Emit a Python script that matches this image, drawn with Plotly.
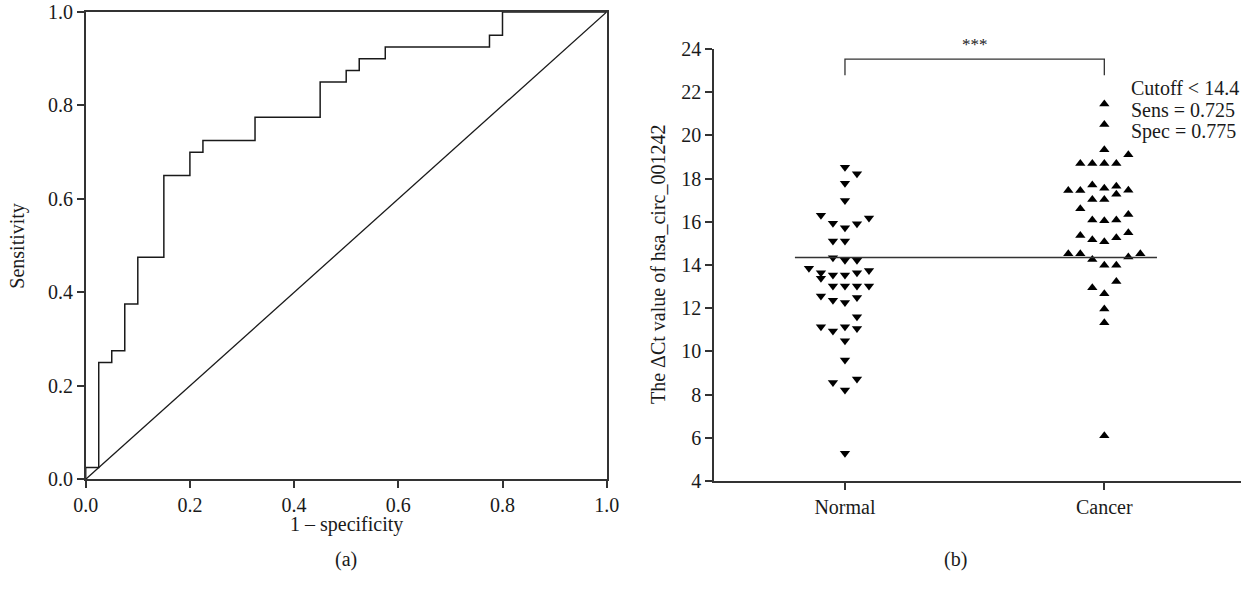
import plotly.graph_objects as go

# ---------------- data ----------------
# (a) ROC curve corner points (1 - specificity, sensitivity)
roc_fpr = [0, 0, 0.025, 0.05, 0.075, 0.1, 0.15, 0.2, 0.225, 0.325, 0.45, 0.5, 0.525, 0.575, 0.775, 0.8, 1.0]
roc_tpr = [0, 0.025, 0.25, 0.275, 0.375, 0.475, 0.65, 0.7, 0.725, 0.775, 0.85, 0.875, 0.9, 0.925, 0.95, 1.0, 1.0]

# (b) delta-Ct values
groups = ["Normal", "Cancer"]
normal_vals = [18.53, 18.22, 17.79, 16.99, 16.30, 16.18, 15.93, 15.72, 15.91, 15.11,
               15.11, 14.34, 14.22, 14.22, 13.85, 13.64, 13.39, 13.54, 13.54, 13.64,
               13.75, 13.03, 13.03, 13.03, 13.03, 12.57, 12.37, 12.26, 12.49, 11.60,
               11.14, 10.95, 11.14, 11.06, 10.49, 9.60, 8.56, 8.72, 8.21, 5.28]
normal_slot = [0, 1, 0, 0, -2, 2, -1, 0, 1, -1,
               0, -1, 0, 1, -3, -2, -2, -1, 0, 1,
               2, -1, 0, 1, 2, -2, -1, 0, 1, 1,
               -2, -1, 0, 1, 0, 0, -1, 1, 0, 0]
cancer_vals = [21.45, 20.50, 19.34, 19.10, 18.70, 18.70, 18.70, 18.70, 17.45, 17.45,
               17.70, 17.55, 17.65, 17.28, 17.46, 17.03, 17.03, 16.60, 16.08, 16.05,
               16.08, 16.34, 15.36, 15.17, 15.08, 15.26, 15.49, 14.52, 14.52, 14.26,
               13.99, 13.99, 14.37, 14.52, 13.24, 12.95, 12.67, 11.96, 11.33, 6.10]
cancer_slot = [0, 0, 0, 2, -2, -1, 0, 1, -3, -2,
               -1, 0, 1, 1, 2, -1, 0, -2, -1, 0,
               1, 2, -2, -1, 0, 1, 2, -3, -2, -1,
               0, 1, 2, 3, 1, -1, 0, 0, 0, 0]
cutoff = 14.35
stats_text = ["Cutoff < 14.4", "Sens = 0.725", "Spec = 0.775"]
signif = "***"

# ---------------- style ----------------
FONT = "Liberation Serif"
INK = "#1a1a1a"
AX = "#333333"
SLOT_W = 0.0463
W, H = 1250, 589
FS = 20

fig = go.Figure()

# ROC curve
fig.add_trace(go.Scatter(x=roc_fpr, y=roc_tpr, mode="lines", line=dict(color=INK, width=1.5, shape="hv"),
                         xaxis="x", yaxis="y", showlegend=False, hoverinfo="skip"))
# reference diagonal
fig.add_trace(go.Scatter(x=[0, 1], y=[0, 1], mode="lines", line=dict(color=INK, width=1.3),
                         xaxis="x", yaxis="y", showlegend=False, hoverinfo="skip"))

# scatter (b)
fig.add_trace(go.Scatter(x=[0 + s * SLOT_W for s in normal_slot], y=normal_vals, mode="markers",
                         marker=dict(symbol="triangle-down", size=9, color="black"),
                         xaxis="x2", yaxis="y2", showlegend=False, name=groups[0]))
fig.add_trace(go.Scatter(x=[1 + s * SLOT_W for s in cancer_slot], y=cancer_vals, mode="markers",
                         marker=dict(symbol="triangle-up", size=9, color="black"),
                         xaxis="x2", yaxis="y2", showlegend=False, name=groups[1]))

# cutoff line
fig.add_shape(type="line", xref="x2", yref="y2", x0=-0.193, x1=1.203, y0=cutoff, y1=cutoff,
              line=dict(color=AX, width=1.5))
# significance bracket
fig.add_shape(type="path", xref="x2", yref="y2",
              path="M 0,22.78 L 0,23.53 L 1,23.53 L 1,22.78", line=dict(color=AX, width=1.3))

tickfont = dict(family=FONT, size=FS, color=INK)
common = dict(showgrid=False, zeroline=False, showline=True, linecolor=AX, linewidth=1.5,
              ticks="outside", ticklen=7, tickwidth=1.5, tickcolor=AX, tickfont=tickfont,
              automargin=False)

fig.update_layout(
    template="none",
    width=W, height=H, autosize=False,
    margin=dict(l=0, r=0, t=0, b=0, pad=0),
    paper_bgcolor="white", plot_bgcolor="white",
    xaxis=dict(domain=[85.7 / W, 606.7 / W], range=[0, 1], dtick=0.2, tickformat=".1f",
               mirror=True, anchor="y", **common),
    yaxis=dict(domain=[1 - 479.3 / H, 1 - 12 / H], range=[0, 1], dtick=0.2, tickformat=".1f",
               mirror=True, anchor="x", **common),
    xaxis2=dict(domain=[714 / W, 1241 / W], range=[-0.505, 1.527], tickvals=[0, 1], ticktext=groups,
                anchor="y2", **common),
    yaxis2=dict(domain=[1 - 481 / H, 1 - 49 / H], range=[4, 24], dtick=2,
                anchor="x2", **common),
)

afont = dict(family=FONT, size=FS, color=INK)
ann = [
    dict(text="Sensitivity", x=18 / W, y=1 - 245.7 / H, textangle=-90),
    dict(text="1 – specificity", x=346 / W, y=1 - 524 / H),
    dict(text="(a)", x=346 / W, y=1 - 559 / H),
    dict(text="(b)", x=955 / W, y=1 - 559 / H),
    dict(text="The ΔCt value of hsa_circ_001242", x=658 / W, y=1 - 265 / H, textangle=-90),
]
for a in ann:
    fig.add_annotation(xref="paper", yref="paper", showarrow=False, font=afont,
                       xanchor="center", yanchor="middle", **a)

fig.add_annotation(xref="x2", yref="paper", x=0.5, y=1 - 45 / H, text=signif, showarrow=False,
                   font=dict(family=FONT, size=17, color=INK), xanchor="center", yanchor="middle")
stats_y = [22.2, 21.18, 20.16]
for txt, yy in zip(stats_text, stats_y):
    fig.add_annotation(xref="x2", yref="y2", x=1.095, y=yy, text=txt, showarrow=False,
                       font=afont, xanchor="left", yanchor="middle", align="left")

fig.write_html("out.html", config={"displayModeBar": False},
               post_script="document.body.style.margin='0';document.body.style.overflow='hidden';")
